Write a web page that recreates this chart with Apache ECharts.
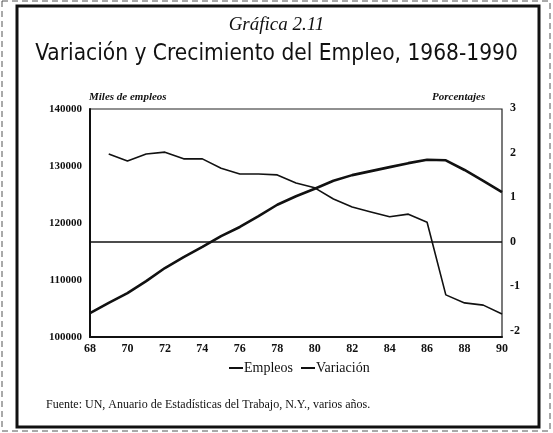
<!DOCTYPE html>
<html><head><meta charset="utf-8">
<script src="https://cdn.jsdelivr.net/npm/echarts@6/dist/echarts.min.js"></script>
<style>html,body{margin:0;padding:0;background:#fff}#c{width:553px;height:433px}</style>
</head><body><div id="c"></div>
<script>
var years = ['68','69','70','71','72','73','74','75','76','77','78','79','80','81','82','83','84','85','86','87','88','89','90'];
var empleos = [104200,106000,107700,109800,112100,114000,115800,117700,119300,121200,123200,124700,126000,127400,128400,129100,129800,130500,131100,131000,129300,127400,125400];
var variacion = [null,1.97,1.81,1.97,2.01,1.86,1.86,1.65,1.52,1.52,1.50,1.32,1.21,0.96,0.78,0.67,0.56,0.62,0.44,-1.19,-1.37,-1.42,-1.62];
var leftTicks = [100000,110000,120000,130000,140000];
var rightTicks = [-2,-1,0,1,2,3];

var serif = '"Liberation Serif","DejaVu Serif",serif';
var chart = echarts.init(document.getElementById('c'));
chart.setOption({
  animation:false,
  backgroundColor:'#fff',
  title:[
    {text:'Gráfica 2.11', left:'center', top:10, textStyle:{fontFamily:serif, fontStyle:'italic', fontWeight:'normal', fontSize:19, color:'#111'}},
    {text:'Variación y Crecimiento del Empleo, 1968-1990', left:'center', top:38, textStyle:{fontFamily:'"Liberation Sans Narrow","DejaVu Sans Condensed",sans-serif', fontWeight:'normal', fontSize:22.5, color:'#111'}}
  ],
  legend:{
    data:['Empleos','Variación'], left:224, top:356, itemWidth:14, itemHeight:2, itemGap:8,
    icon:'rect', textStyle:{fontFamily:serif, fontSize:14, color:'#111', padding:[0,0,0,-4]}
  },
  grid:[
    {left:90, right:51, top:109, bottom:96, show:true, borderColor:'#222', borderWidth:1.2},
    {left:90, right:51, top:108, bottom:102}
  ],
  xAxis:[
    {gridIndex:0, type:'category', data:years, boundaryGap:false,
     axisLine:{lineStyle:{color:'#111', width:2}}, axisTick:{show:false},
     axisLabel:{interval:1, fontFamily:serif, fontWeight:'bold', fontSize:12, color:'#111', margin:6}},
    {gridIndex:1, type:'category', data:years, boundaryGap:false, show:false}
  ],
  yAxis:[
    {gridIndex:0, type:'value', min:100000, max:140000, interval:10000, position:'left',
     axisLine:{show:true, lineStyle:{color:'#111', width:2}}, axisTick:{show:false}, splitLine:{show:false},
     axisLabel:{fontFamily:serif, fontWeight:'bold', fontSize:11, color:'#111', margin:8,
       formatter:function(v){return leftTicks.indexOf(v)>=0?String(v):'';}}},
    {gridIndex:1, type:'value', min:-2, max:3, interval:1, position:'right',
     axisLine:{show:false}, axisTick:{show:false}, splitLine:{show:false},
     axisLabel:{fontFamily:serif, fontWeight:'bold', fontSize:12, color:'#111', margin:8,
       formatter:function(v){return rightTicks.indexOf(v)>=0?String(v):'';}}}
  ],
  series:[
    {name:'Empleos', type:'line', xAxisIndex:0, yAxisIndex:0, data:empleos, symbol:'none',
     lineStyle:{color:'#111', width:2.6}, itemStyle:{color:'#111'}},
    {name:'Variación', type:'line', xAxisIndex:1, yAxisIndex:1, data:variacion, symbol:'none',
     lineStyle:{color:'#111', width:1.6}, itemStyle:{color:'#111'},
     markLine:{silent:true, symbol:'none', label:{show:false}, lineStyle:{color:'#111', type:'solid', width:1.5}, data:[{yAxis:0}]}}
  ],
  graphic:[
    {type:'rect', shape:{x:2, y:1, width:548, height:430}, style:{fill:'none', stroke:'#555', lineWidth:1, lineDash:[6,4]}},
    {type:'rect', shape:{x:17, y:6, width:522, height:421}, style:{fill:'none', stroke:'#111', lineWidth:3}},
    {type:'text', left:89, top:92, style:{text:'Miles de empleos', font:'italic bold 11px '+serif, fill:'#111'}},
    {type:'text', left:432, top:92, style:{text:'Porcentajes', font:'italic bold 11px '+serif, fill:'#111'}},
    {type:'text', left:46, top:399, style:{text:'Fuente: UN, Anuario de Estadísticas del Trabajo, N.Y., varios años.', font:'12px '+serif, fill:'#111'}}
  ]
});
</script></body></html>
